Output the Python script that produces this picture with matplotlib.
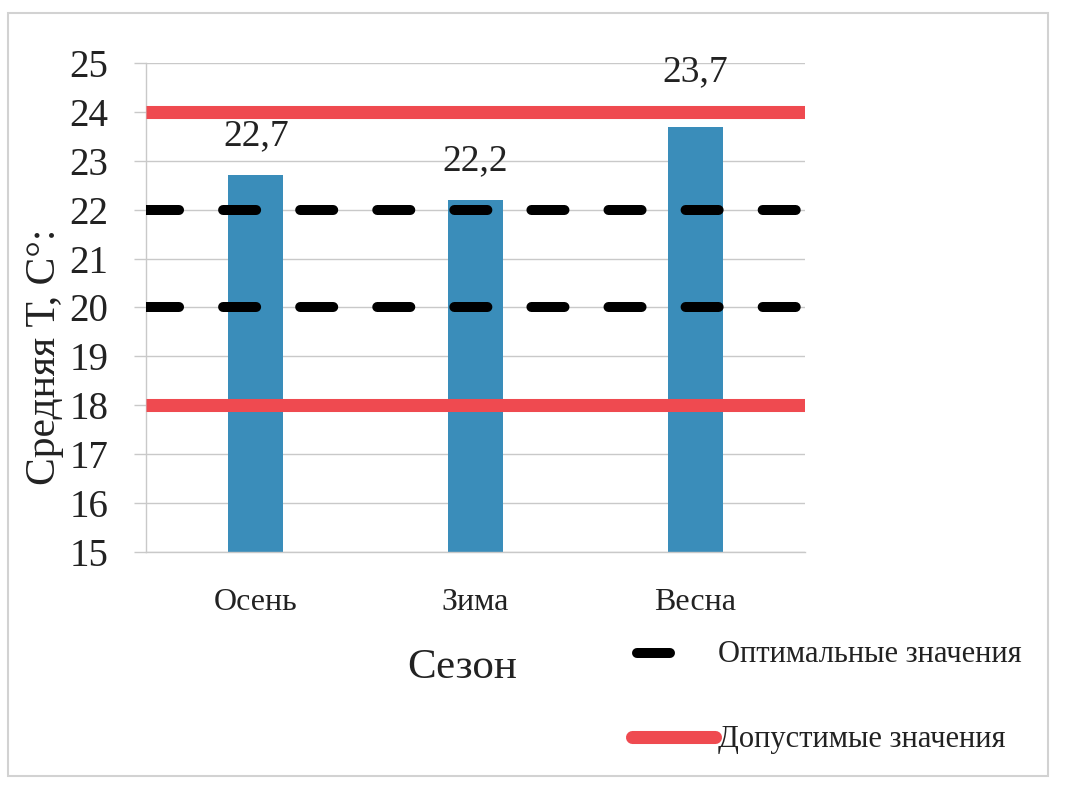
import matplotlib
matplotlib.use("Agg")
import matplotlib.pyplot as plt
from matplotlib.lines import Line2D
from matplotlib.patches import Rectangle

# Seasonal mean room temperature against optimal and permissible bounds
seasons = ["Осень", "Зима", "Весна"]
mean_temp = [22.7, 22.2, 23.7]
optimal_bounds = [20, 22]
permissible_bounds = [18, 24]
y_ticks = list(range(15, 26))

plt.rcParams["font.family"] = ["Liberation Serif", "DejaVu Serif"]
plt.rcParams["lines.scale_dashes"] = False

BAR_COLOR = "#3A8DBA"
RED = "#EF4A50"
GRID = "#C9C9C9"
TEXT = "#222222"

fig = plt.figure(figsize=(10.66, 7.89), dpi=100)
fig.patch.set_facecolor("white")

# light frame around the chart
fig.add_artist(Rectangle((8 / 1066, 1 - 776 / 789), (1048 - 8) / 1066, (776 - 13) / 789,
                         transform=fig.transFigure, fill=False,
                         edgecolor="#D2D2D2", linewidth=1.5))

ax = fig.add_axes([146 / 1066, 1 - 552 / 789, (805 - 146) / 1066, (552 - 63) / 789])

x = list(range(len(seasons)))
ax.bar(x, [v - 15 for v in mean_temp], bottom=15, width=0.25,
       color=BAR_COLOR, zorder=2)

ax.set_xlim(-0.5, len(seasons) - 0.5)
ax.set_ylim(15, 25)
ax.set_yticks(y_ticks)
ax.set_yticklabels([str(t) for t in y_ticks], fontsize=28, color=TEXT)
ax.set_xticks(x)
ax.set_xticklabels(seasons, fontsize=23, color=TEXT)
ax.tick_params(axis="y", length=9, width=1, color=GRID, pad=18)
ax.tick_params(axis="x", length=0, pad=26)
ax.yaxis.grid(True, color=GRID, linewidth=1, zorder=0)
ax.set_axisbelow(True)
for side in ("top", "right"):
    ax.spines[side].set_visible(False)
for side in ("left", "bottom"):
    ax.spines[side].set_color(GRID)
    ax.spines[side].set_linewidth(1)

xs = [-0.5, len(seasons) - 0.5]
for b in optimal_bounds:
    ax.plot(xs, [b, b], color="black", linewidth=7.2, dashes=(23.8, 31.7),
            dash_capstyle="round", zorder=4, clip_on=True)
for b in permissible_bounds:
    ax.plot(xs, [b, b], color=RED, linewidth=9.4, solid_capstyle="butt",
            zorder=3)

# value labels above bars
offsets = [22, 22, 37]
for xi, v, off in zip(x, mean_temp, offsets):
    ax.annotate(f"{v:.1f}".replace(".", ","), (xi, v), xytext=(0, off),
                textcoords="offset pixels", ha="center", va="bottom",
                fontsize=27, color=TEXT)

fig.text(462 / 1066, 1 - 668 / 789, "Сезон", fontsize=31, color=TEXT,
         ha="center", va="center")
fig.text(45 / 1066, 1 - 357 / 789, "Средняя Т, С°:", fontsize=30, color=TEXT,
         rotation=90, ha="center", va="center")

# legend
fig.add_artist(Line2D([637 / 1066, 670 / 1066], [1 - 653 / 789] * 2,
                      transform=fig.transFigure, color="black", linewidth=7.2,
                      solid_capstyle="round"))
fig.add_artist(Line2D([632 / 1066, 715 / 1066], [1 - 737 / 789] * 2,
                      transform=fig.transFigure, color=RED, linewidth=9.4,
                      solid_capstyle="round"))
fig.text(718 / 1066, 1 - 655 / 789, "Оптимальные значения", fontsize=22,
         color=TEXT, ha="left", va="center")
fig.text(718 / 1066, 1 - 740 / 789, "Допустимые значения", fontsize=22,
         color=TEXT, ha="left", va="center")

fig.savefig("out.png", dpi=100, facecolor="white")
